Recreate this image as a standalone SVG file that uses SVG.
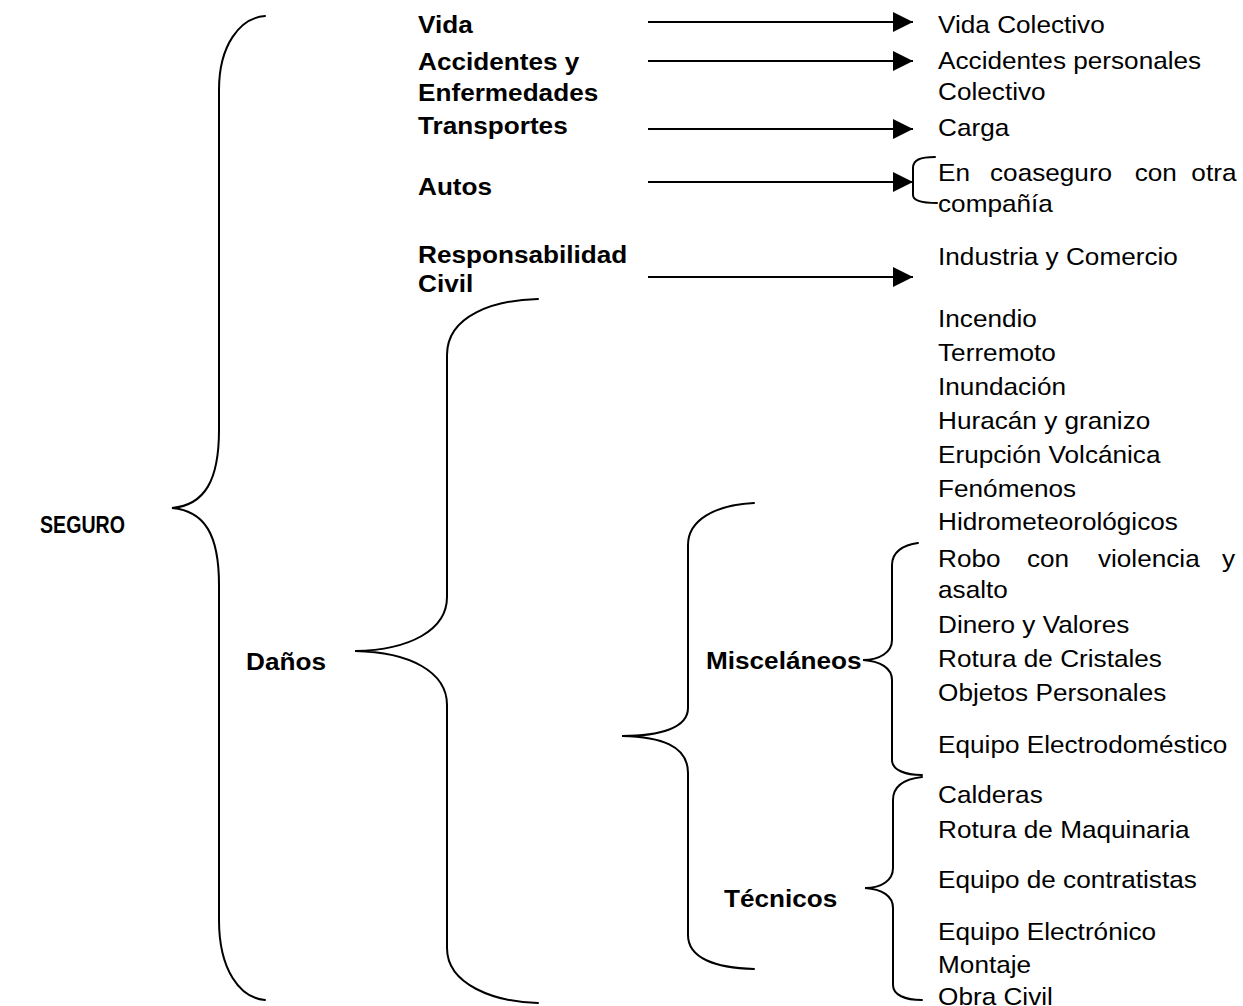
<svg xmlns="http://www.w3.org/2000/svg" width="1243" height="1006" viewBox="0 0 1243 1006">
  <style>
    .brace { fill: none; stroke: #000; stroke-width: 2; stroke-linecap: round; }
    .link { stroke: #000; stroke-width: 2; }
    .head { fill: #000; }
    text { font-family: "Liberation Sans", Arial, sans-serif; font-size: 24px; fill: #000; }
    .b { font-weight: bold; }
  </style>
  <defs>
    <marker id="arrow" viewBox="0 0 20 20" refX="20" refY="10" markerWidth="20" markerHeight="20" markerUnits="userSpaceOnUse" orient="auto">
      <polygon class="head" points="0,0 20,10 0,20"/>
    </marker>
  </defs>
  <rect width="1243" height="1006" fill="#fff"/>

  <!-- braces -->
  <g id="braces">
    <path id="brace-seguro" class="brace" d="M265,16 C240,18 219,45 219,90 L219,430 C219,480 205,505 172,508 C205,511 219,535 219,585 L219,920 C219,970 240,998 265,1000"/>
    <path id="brace-danos" class="brace" d="M538,299 C495,300 447,315 447,355 L447,597 C447,630 410,650 355,651 C410,652 447,672 447,705 L447,948 C447,985 495,1002 538,1003"/>
    <path id="brace-ramos" class="brace" d="M754,503 C715,505 688,520 688,545 L688,708 C688,728 660,736 622,736 C660,737 688,745 688,773 L688,935 C688,958 715,968 754,969"/>
    <path id="brace-misc" class="brace" d="M918,543 C903,545 892,552 892,565 L892,640 C892,652 880,660 863,660 C880,661 892,668 892,680 L892,760 C892,770 905,775 922,775"/>
    <path id="brace-tecnicos" class="brace" d="M922,777 C905,779 893,786 893,800 L893,868 C893,880 882,888 865,888 C882,889 893,896 893,908 L893,985 C893,995 905,1000 922,1000"/>
    <path id="brace-autos" class="brace" d="M935,157 C920,157 913,160 913,168 L913,195 C913,200 920,203 937,203"/>
  </g>

  <!-- connectors -->
  <g id="connectors">
    <line class="link" x1="648" y1="22" x2="913" y2="22" marker-end="url(#arrow)"/>
    <line class="link" x1="648" y1="61" x2="913" y2="61" marker-end="url(#arrow)"/>
    <line class="link" x1="648" y1="129" x2="913" y2="129" marker-end="url(#arrow)"/>
    <line class="link" x1="648" y1="182" x2="913" y2="182" marker-end="url(#arrow)"/>
    <line class="link" x1="648" y1="277" x2="913" y2="277" marker-end="url(#arrow)"/>
  </g>

  <!-- labels (type set slightly wide) -->
  <g transform="scale(1.09 1)">
    <g id="node-seguro"><text class="b" x="36.7" y="533" textLength="78" lengthAdjust="spacingAndGlyphs">SEGURO</text></g>
    <g id="node-vida"><text class="b" x="383.5" y="33">Vida</text></g>
    <g id="node-accidentes"><text class="b" x="383.5" y="70">Accidentes y</text><text class="b" x="383.5" y="101">Enfermedades</text></g>
    <g id="node-transportes"><text class="b" x="383.5" y="134">Transportes</text></g>
    <g id="node-autos"><text class="b" x="383.5" y="195">Autos</text></g>
    <g id="node-rc"><text class="b" x="383.5" y="263">Responsabilidad</text><text class="b" x="383.5" y="292">Civil</text></g>
    <g id="node-danos"><text class="b" x="225.7" y="670">Daños</text></g>
    <g id="node-misc"><text class="b" x="647.7" y="669">Misceláneos</text></g>
    <g id="node-tecnicos"><text class="b" x="664.2" y="907">Técnicos</text></g>

    <g id="node-vida-colectivo"><text x="860.6" y="33">Vida Colectivo</text></g>
    <g id="node-ap-colectivo"><text x="860.6" y="69">Accidentes personales</text><text x="860.6" y="100">Colectivo</text></g>
    <g id="node-carga"><text x="860.6" y="136">Carga</text></g>
    <g id="node-coaseguro"><text y="181"><tspan x="860.6">En</tspan><tspan x="908.3">coaseguro</tspan><tspan x="1041">con</tspan><tspan x="1093">otra</tspan></text><text x="860.6" y="212">compañía</text></g>
    <g id="node-industria"><text x="860.6" y="265">Industria y Comercio</text></g>

    <g id="node-incendio">
      <text x="860.6" y="327">Incendio</text>
      <text x="860.6" y="361">Terremoto</text>
      <text x="860.6" y="395">Inundación</text>
      <text x="860.6" y="429">Huracán y granizo</text>
      <text x="860.6" y="463">Erupción Volcánica</text>
      <text x="860.6" y="497">Fenómenos</text>
      <text x="860.6" y="530">Hidrometeorológicos</text>
    </g>
    <g id="node-misc-items">
      <text y="567"><tspan x="860.6">Robo</tspan><tspan x="942.2">con</tspan><tspan x="1007.3">violencia</tspan><tspan x="1121.1">y</tspan></text>
      <text x="860.6" y="598">asalto</text>
      <text x="860.6" y="633">Dinero y Valores</text>
      <text x="860.6" y="667">Rotura de Cristales</text>
      <text x="860.6" y="701">Objetos Personales</text>
      <text x="860.6" y="753">Equipo Electrodoméstico</text>
    </g>
    <g id="node-tecnicos-items">
      <text x="860.6" y="803">Calderas</text>
      <text x="860.6" y="838">Rotura de Maquinaria</text>
      <text x="860.6" y="888">Equipo de contratistas</text>
      <text x="860.6" y="940">Equipo Electrónico</text>
      <text x="860.6" y="973">Montaje</text>
      <text x="860.6" y="1005">Obra Civil</text>
    </g>
  </g>
</svg>
